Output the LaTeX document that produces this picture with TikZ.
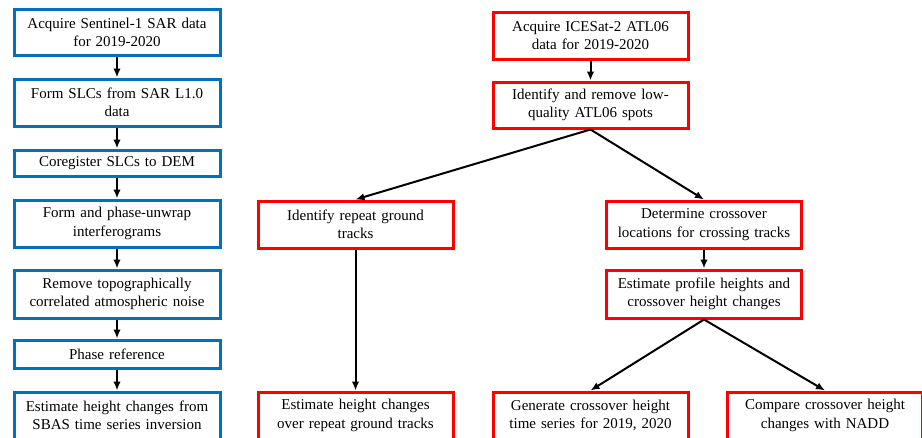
\documentclass[tikz,border=0pt]{standalone}
\usepackage{fontspec}
\setmainfont{Liberation Serif}
\usetikzlibrary{arrows.meta}
\definecolor{sarblue}{RGB}{0,112,192}
\definecolor{icered}{RGB}{255,0,0}

\begin{document}
\begin{tikzpicture}[x=1pt,y=1pt,
  box/.style={draw, line width=3pt, align=center, inner xsep=3pt, inner ysep=0pt,
    font=\fontsize{15}{18.5}\selectfont},
  sarbox/.style={box, draw=sarblue, minimum width=206pt, text width=200pt},
  icebox/.style={box, draw=icered, minimum width=195pt, text width=189pt},
  flow/.style={line width=2pt, -{Latex[length=9pt,width=7.5pt]}}]
\useasboundingbox (0,0) rectangle (922,-437);
% Sentinel-1 column
\node[sarbox, minimum height=46pt] (s1) at (117,-32.5) {Acquire Sentinel-1 SAR data\\for 2019-2020};
\node[sarbox, minimum height=47pt] (s2) at (117,-102.5) {Form SLCs from SAR L1.0\\data};
\node[sarbox, minimum height=26pt] (s3) at (117,-163) {Coregister SLCs to DEM};
\node[sarbox, minimum height=47pt] (s4) at (117,-223.5) {Form and phase-unwrap\\interferograms};
\node[sarbox, minimum height=48pt] (s5) at (117,-294) {Remove topographically\\correlated atmospheric noise};
\node[sarbox, minimum height=28pt] (s6) at (117,-354) {Phase reference};
\node[sarbox, minimum height=47pt] (s7) at (117,-415.5) {Estimate height changes from\\SBAS time series inversion};
\draw[flow] (s1) -- (s2);
\draw[flow] (s2) -- (s3);
\draw[flow] (s3) -- (s4);
\draw[flow] (s4) -- (s5);
\draw[flow] (s5) -- (s6);
\draw[flow] (s6) -- (s7);
% ICESat-2 tree
\node[icebox, minimum height=47pt] (i1) at (590.5,-35.5) {Acquire ICESat-2 ATL06\\data for 2019-2020};
\node[icebox, minimum height=46pt] (i2) at (590.5,-105) {Identify and remove low-\\quality ATL06 spots};
\node[icebox, minimum height=47pt] (rgt) at (355.5,-224.5) {Identify repeat ground\\tracks};
\node[icebox, minimum height=47pt] (xo) at (704,-224.5) {Determine crossover\\locations for crossing tracks};
\node[icebox, minimum height=48pt] (prof) at (704,-294) {Estimate profile heights and\\crossover height changes};
\node[icebox, minimum height=47pt] (rgtdh) at (355.5,-415.5) {Estimate height changes\\over repeat ground tracks};
\node[icebox, minimum height=47pt] (xots) at (590.5,-415.5) {Generate crossover height\\time series for 2019, 2020};
\node[icebox, minimum height=47pt] (nadd) at (825,-415.5) {Compare crossover height\\changes with NADD};
\draw[flow] (i1) -- (i2);
\draw[flow] (i2.south) -- (rgt.north);
\draw[flow] (i2.south) -- (xo.north);
\draw[flow] (rgt) -- (rgtdh);
\draw[flow] (xo) -- (prof);
\draw[flow] (prof.south) -- (xots.north);
\draw[flow] (prof.south) -- (nadd.north);
\end{tikzpicture}
\end{document}
